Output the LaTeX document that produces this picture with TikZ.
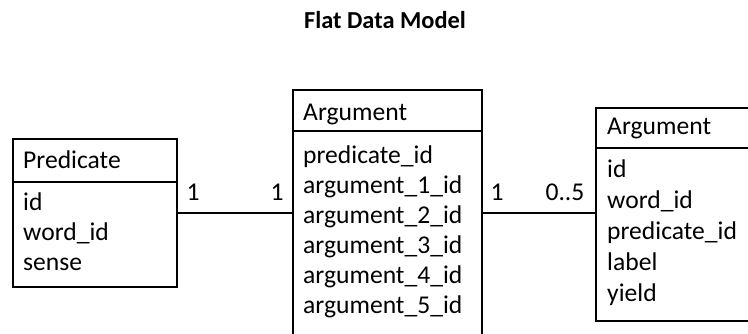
\documentclass[tikz,border=0pt]{standalone}
\usepackage{fontspec}
\setmainfont{Carlito}
\usetikzlibrary{calc}
\begin{document}
\begin{tikzpicture}[x=1pt,y=-1pt,
  box/.style={draw, line width=2.8pt, inner sep=0pt, outer sep=0pt, anchor=north west},
  rule/.style={line width=2.8pt},
  field/.style={anchor=base west, inner sep=0pt, font=\fontsize{25.6}{30}\selectfont},
  mult/.style={anchor=base, inner sep=0pt, font=\fontsize{25.6}{30}\selectfont},
  link/.style={line width=2.8pt}
]
\useasboundingbox (0,0) rectangle (748,333);

% title
\node[anchor=base, inner sep=0pt, font=\fontsize{24.4}{28}\bfseries] (title) at (385,28) {Flat Data Model};

% entity outlines
\node[box, minimum width=164pt, minimum height=148pt] (pred) at (13,139) {};
\node[box, minimum width=189pt, minimum height=260pt] (args) at (293,90) {};
\node[box, minimum width=180pt, minimum height=213pt] (arg) at (596,108) {};

% header separators
\draw[rule] (13,182) -- (177,182);
\draw[rule] (293,131) -- (482,131);
\draw[rule] (596,148) -- (776,148);

% Predicate
\node[field] (ph) at (23,168) {Predicate};
\node[field] (p1) at (23,210) {id};
\node[field] (p2) at (23,240) {word\_id};
\node[field] (p3) at (23,270) {sense};

% Argument (links)
\node[field] (ah) at (303,120) {Argument};
\node[field] (a0) at (303,163) {predicate\_id};
\node[field] (a1) at (303,193) {argument\_1\_id};
\node[field] (a2) at (303,223) {argument\_2\_id};
\node[field] (a3) at (303,253) {argument\_3\_id};
\node[field] (a4) at (303,283) {argument\_4\_id};
\node[field] (a5) at (303,313) {argument\_5\_id};

% Argument (entity)
\node[field] (bh) at (607,134) {Argument};
\node[field] (b1) at (607,177) {id};
\node[field] (b2) at (607,208) {word\_id};
\node[field] (b3) at (607,239) {predicate\_id};
\node[field] (b4) at (607,270) {label};
\node[field] (b5) at (607,301) {yield};

% relations
\draw[link] (pred.east) -- (pred.east -| args.west);
\draw[link] (pred.east -| args.east) -- (pred.east -| arg.west);

% multiplicities
\node[mult] (m1) at (193,200) {1};
\node[mult] (m2) at (277,200) {1};
\node[mult] (m3) at (497,200) {1};
\node[mult] (m4) at (565,200) {0..5};
\end{tikzpicture}
\end{document}
